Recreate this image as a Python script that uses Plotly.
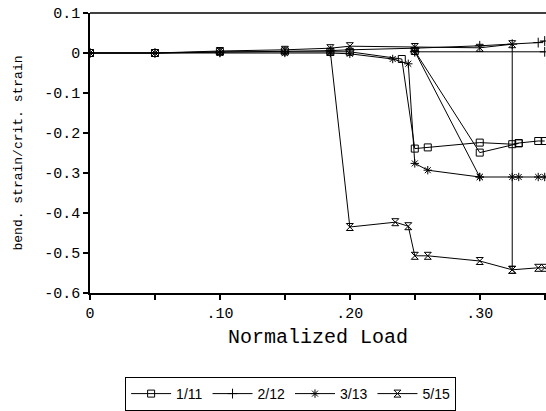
import plotly.graph_objects as go

# Data (None separates separate runs within the same gauge pair)
s1_x = [0, 0.05, 0.10, 0.15, 0.185, 0.20, 0.24, 0.25, 0.26, 0.30, 0.325, 0.33, 0.345, 0.35,
        None, 0.25, 0.30, 0.33]
s1_y = [0, 0.0, 0.003, 0.004, 0.003, 0.003, -0.015, -0.239, -0.236, -0.224, -0.228, -0.225, -0.22, -0.22,
        None, 0.005, -0.249, -0.226]

s2_x = [0, 0.05, 0.10, 0.15, 0.185, 0.20, 0.25, 0.30, 0.325, 0.345, 0.35,
        None, 0.25, 0.35]
s2_y = [0, 0.0, 0.002, 0.004, 0.006, 0.008, 0.012, 0.018, 0.022, 0.026, 0.03,
        None, 0.003, 0.003]

s3_x = [0, 0.05, 0.10, 0.15, 0.185, 0.20, 0.233, 0.245, 0.25, 0.26, 0.30, 0.325, 0.33, 0.345, 0.35,
        None, 0.25, 0.30]
s3_y = [0, 0.0, 0.0, 0.0, 0.0, -0.002, -0.015, -0.027, -0.276, -0.293, -0.31, -0.31, -0.31, -0.31, -0.31,
        None, 0.004, -0.31]

s4_x = [0, 0.05, 0.10, 0.15, 0.185, 0.20, 0.25, 0.30, 0.325, 0.325, 0.345, 0.35,
        None, 0.185, 0.20, 0.235, 0.245, 0.25, 0.26, 0.30, 0.325]
s4_y = [0, 0.0, 0.005, 0.008, 0.012, 0.017, 0.015, 0.013, 0.022, -0.542, -0.537, -0.537,
        None, 0.003, -0.435, -0.423, -0.433, -0.507, -0.507, -0.52, -0.542]

names = ["1/11", "2/12", "3/13", "5/15"]
symbols = ["square-open", "cross-thin-open", "asterisk-open", "hourglass-open"]

x_tickvals = [0, 0.05, 0.10, 0.15, 0.20, 0.25, 0.30, 0.35]
x_ticktext = ["0", "", ".10", "", ".20", "", ".30", ""]
y_tickvals = [0.1, 0, -0.1, -0.2, -0.3, -0.4, -0.5, -0.6]
y_ticktext = ["0.1", "0", "-0.1", "-0.2", "-0.3", "-0.4", "-0.5", "-0.6"]

fig = go.Figure()
for xs, ys, nm, sym in zip([s1_x, s2_x, s3_x, s4_x], [s1_y, s2_y, s3_y, s4_y], names, symbols):
    fig.add_trace(go.Scatter(
        x=xs, y=ys, name=nm, mode="lines+markers",
        line=dict(color="black", width=1),
        marker=dict(symbol=sym, size=7, color="black", line=dict(color="black", width=1)),
        connectgaps=False, cliponaxis=True,
    ))

mono = "Liberation Mono"
fig.update_layout(
    width=546, height=411,
    margin=dict(l=90, r=0, t=13, b=117),
    paper_bgcolor="white", plot_bgcolor="white",
    showlegend=True,
    legend=dict(
        orientation="h", x=0.077, y=-0.3, xanchor="left", yanchor="top",
        bordercolor="black", borderwidth=1,
        font=dict(family="Liberation Sans", size=14, color="black"),
        itemwidth=40, tracegroupgap=0,
    ),
    xaxis=dict(
        range=[0, 0.351], tickvals=x_tickvals, ticktext=x_ticktext,
        ticks="outside", ticklen=5, tickcolor="black", tickwidth=1.5,
        showline=True, linecolor="black", linewidth=1.5, mirror=False,
        showgrid=False, zeroline=False, automargin=False,
        tickfont=dict(family=mono, size=15, color="black"),
        title=dict(text="Normalized Load", font=dict(family=mono, size=20, color="black"), standoff=7),
    ),
    yaxis=dict(
        range=[-0.6, 0.1], tickvals=y_tickvals, ticktext=y_ticktext,
        ticks="outside", ticklen=5, tickcolor="black", tickwidth=1.5,
        showline=True, linecolor="black", linewidth=1.5,
        showgrid=False, zeroline=False, automargin=False,
        tickfont=dict(family=mono, size=15, color="black"),
        title=dict(text="bend. strain/crit. strain", font=dict(family=mono, size=13, color="black"), standoff=19),
    ),
    shapes=[dict(type="line", xref="paper", yref="paper", x0=0, x1=1, y0=1, y1=1,
                 line=dict(color="black", width=1.5))],
)

fig.write_html("out.html", config={"displayModeBar": False},
               post_script="document.body.style.margin='0';")
